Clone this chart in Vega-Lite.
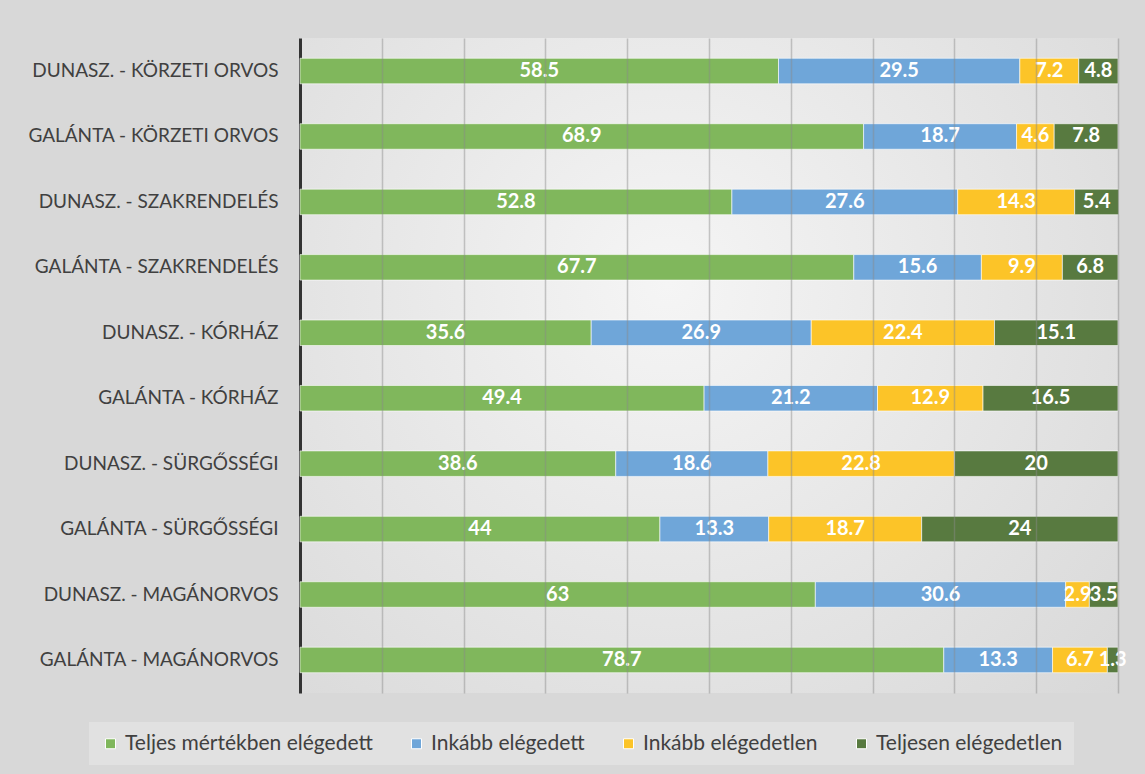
{
  "$schema": "https://vega.github.io/schema/vega-lite/v6.json",
  "width": 818,
  "height": 655,
  "autosize": {"type": "none"},
  "padding": {"left": 300, "top": 38, "right": 27, "bottom": 81},
  "background": "#d8d8d8",
  "config": {
    "view": {
      "stroke": null,
      "fill": {"gradient": "radial", "x1": 0.45, "y1": 0.4, "r1": 0, "x2": 0.45, "y2": 0.4, "r2": 0.75,
        "stops": [{"offset": 0, "color": "#f5f5f5"}, {"offset": 1, "color": "#d8d8d8"}]}
    },
    "font": "Lato"
  },
  "data": {
    "values": [
      {"kat": "DUNASZ. - KÖRZETI ORVOS", "cat": "Teljes mértékben elégedett", "o": 1, "v": 58.5},
      {"kat": "DUNASZ. - KÖRZETI ORVOS", "cat": "Inkább elégedett", "o": 2, "v": 29.5},
      {"kat": "DUNASZ. - KÖRZETI ORVOS", "cat": "Inkább elégedetlen", "o": 3, "v": 7.2},
      {"kat": "DUNASZ. - KÖRZETI ORVOS", "cat": "Teljesen elégedetlen", "o": 4, "v": 4.8},
      {"kat": "GALÁNTA - KÖRZETI ORVOS", "cat": "Teljes mértékben elégedett", "o": 1, "v": 68.9},
      {"kat": "GALÁNTA - KÖRZETI ORVOS", "cat": "Inkább elégedett", "o": 2, "v": 18.7},
      {"kat": "GALÁNTA - KÖRZETI ORVOS", "cat": "Inkább elégedetlen", "o": 3, "v": 4.6},
      {"kat": "GALÁNTA - KÖRZETI ORVOS", "cat": "Teljesen elégedetlen", "o": 4, "v": 7.8},
      {"kat": "DUNASZ. - SZAKRENDELÉS", "cat": "Teljes mértékben elégedett", "o": 1, "v": 52.8},
      {"kat": "DUNASZ. - SZAKRENDELÉS", "cat": "Inkább elégedett", "o": 2, "v": 27.6},
      {"kat": "DUNASZ. - SZAKRENDELÉS", "cat": "Inkább elégedetlen", "o": 3, "v": 14.3},
      {"kat": "DUNASZ. - SZAKRENDELÉS", "cat": "Teljesen elégedetlen", "o": 4, "v": 5.4},
      {"kat": "GALÁNTA - SZAKRENDELÉS", "cat": "Teljes mértékben elégedett", "o": 1, "v": 67.7},
      {"kat": "GALÁNTA - SZAKRENDELÉS", "cat": "Inkább elégedett", "o": 2, "v": 15.6},
      {"kat": "GALÁNTA - SZAKRENDELÉS", "cat": "Inkább elégedetlen", "o": 3, "v": 9.9},
      {"kat": "GALÁNTA - SZAKRENDELÉS", "cat": "Teljesen elégedetlen", "o": 4, "v": 6.8},
      {"kat": "DUNASZ. - KÓRHÁZ", "cat": "Teljes mértékben elégedett", "o": 1, "v": 35.6},
      {"kat": "DUNASZ. - KÓRHÁZ", "cat": "Inkább elégedett", "o": 2, "v": 26.9},
      {"kat": "DUNASZ. - KÓRHÁZ", "cat": "Inkább elégedetlen", "o": 3, "v": 22.4},
      {"kat": "DUNASZ. - KÓRHÁZ", "cat": "Teljesen elégedetlen", "o": 4, "v": 15.1},
      {"kat": "GALÁNTA - KÓRHÁZ", "cat": "Teljes mértékben elégedett", "o": 1, "v": 49.4},
      {"kat": "GALÁNTA - KÓRHÁZ", "cat": "Inkább elégedett", "o": 2, "v": 21.2},
      {"kat": "GALÁNTA - KÓRHÁZ", "cat": "Inkább elégedetlen", "o": 3, "v": 12.9},
      {"kat": "GALÁNTA - KÓRHÁZ", "cat": "Teljesen elégedetlen", "o": 4, "v": 16.5},
      {"kat": "DUNASZ. - SÜRGŐSSÉGI", "cat": "Teljes mértékben elégedett", "o": 1, "v": 38.6},
      {"kat": "DUNASZ. - SÜRGŐSSÉGI", "cat": "Inkább elégedett", "o": 2, "v": 18.6},
      {"kat": "DUNASZ. - SÜRGŐSSÉGI", "cat": "Inkább elégedetlen", "o": 3, "v": 22.8},
      {"kat": "DUNASZ. - SÜRGŐSSÉGI", "cat": "Teljesen elégedetlen", "o": 4, "v": 20},
      {"kat": "GALÁNTA - SÜRGŐSSÉGI", "cat": "Teljes mértékben elégedett", "o": 1, "v": 44},
      {"kat": "GALÁNTA - SÜRGŐSSÉGI", "cat": "Inkább elégedett", "o": 2, "v": 13.3},
      {"kat": "GALÁNTA - SÜRGŐSSÉGI", "cat": "Inkább elégedetlen", "o": 3, "v": 18.7},
      {"kat": "GALÁNTA - SÜRGŐSSÉGI", "cat": "Teljesen elégedetlen", "o": 4, "v": 24},
      {"kat": "DUNASZ. - MAGÁNORVOS", "cat": "Teljes mértékben elégedett", "o": 1, "v": 63},
      {"kat": "DUNASZ. - MAGÁNORVOS", "cat": "Inkább elégedett", "o": 2, "v": 30.6},
      {"kat": "DUNASZ. - MAGÁNORVOS", "cat": "Inkább elégedetlen", "o": 3, "v": 2.9},
      {"kat": "DUNASZ. - MAGÁNORVOS", "cat": "Teljesen elégedetlen", "o": 4, "v": 3.5},
      {"kat": "GALÁNTA - MAGÁNORVOS", "cat": "Teljes mértékben elégedett", "o": 1, "v": 78.7},
      {"kat": "GALÁNTA - MAGÁNORVOS", "cat": "Inkább elégedett", "o": 2, "v": 13.3},
      {"kat": "GALÁNTA - MAGÁNORVOS", "cat": "Inkább elégedetlen", "o": 3, "v": 6.7},
      {"kat": "GALÁNTA - MAGÁNORVOS", "cat": "Teljesen elégedetlen", "o": 4, "v": 1.3}
    ]
  },
  "transform": [
    {"stack": "v", "groupby": ["kat"], "sort": [{"field": "o", "order": "ascending"}], "as": ["v0", "v1"]}
  ],
  "encoding": {
    "y": {
      "field": "kat", "type": "nominal", "sort": null,
      "scale": {"paddingInner": 0.61, "paddingOuter": 0.31},
      "axis": {
        "title": null, "ticks": false, "grid": false,
        "domainColor": "#333333", "domainWidth": 3,
        "labelFont": "Lato", "labelFontSize": 19, "labelColor": "#404040",
        "labelPadding": 22, "labelLimit": 300
      }
    }
  },
  "layer": [
    {
      "mark": {"type": "bar", "stroke": "#ffffff", "strokeWidth": 1, "strokeOpacity": 0.6},
      "encoding": {
        "x": {
          "field": "v0", "type": "quantitative",
          "scale": {"domain": [0, 100], "nice": false},
          "axis": {
            "title": null, "labels": false, "ticks": false, "domain": false,
            "values": [10, 20, 30, 40, 50, 60, 70, 80, 90, 100],
            "grid": true, "gridColor": "#8a8a8a", "gridOpacity": 0.45, "gridWidth": 1.5, "zindex": 1
          }
        },
        "x2": {"field": "v1"},
        "color": {
          "field": "cat", "type": "nominal",
          "scale": {
            "domain": ["Teljes mértékben elégedett", "Inkább elégedett", "Inkább elégedetlen", "Teljesen elégedetlen"],
            "range": ["#80b75c", "#6fa6d9", "#fcc428", "#587a40"]
          },
          "legend": {
            "title": null, "orient": "none", "direction": "horizontal",
            "legendX": -211, "legendY": 684,
            "padding": 11, "fillColor": "#e1e1e1", "strokeColor": null,
            "symbolType": "square", "symbolSize": 100, "symbolStrokeWidth": 1, "symbolStrokeColor": "#ffffff",
            "labelFont": "Lato", "labelFontSize": 21, "labelColor": "#404040", "labelOffset": 4,
            "columnPadding": 33, "labelLimit": 400
          }
        }
      }
    },
    {
      "transform": [{"calculate": "(datum.v0 + datum.v1) / 2", "as": "mid"}],
      "mark": {"type": "text", "color": "#ffffff", "fontWeight": "bold", "fontSize": 20, "font": "Lato", "baseline": "middle", "align": "center"},
      "encoding": {
        "x": {"field": "mid", "type": "quantitative"},
        "text": {"field": "v", "type": "quantitative"}
      }
    }
  ]
}
